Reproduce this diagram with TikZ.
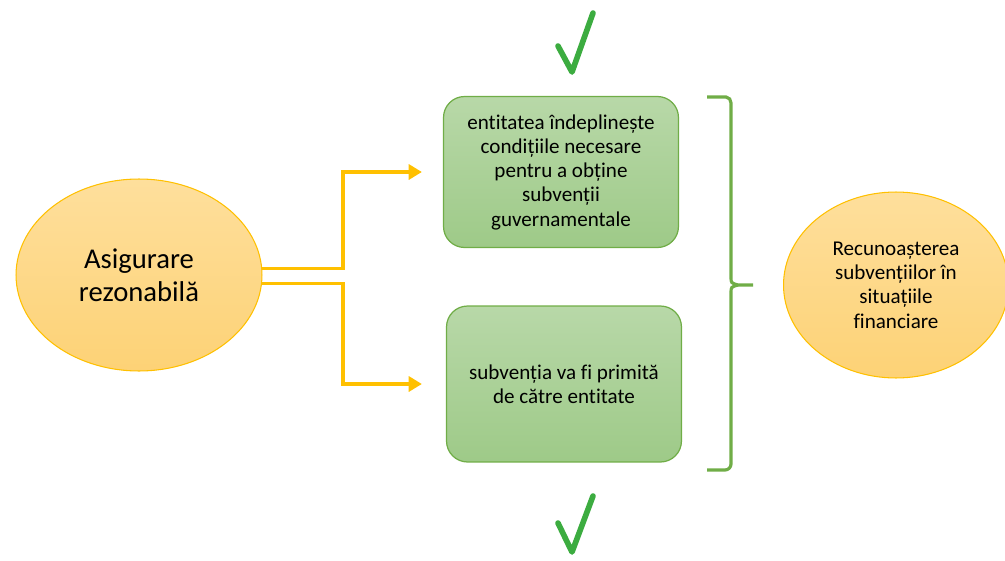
\documentclass[tikz,border=0pt]{standalone}
\usepackage{fontspec}
\setmainfont{Carlito}[Ligatures=NoCommon]
\usetikzlibrary{arrows.meta,shapes.geometric}
\definecolor{portocaliu}{RGB}{255,192,0}
\definecolor{portocaliusus}{RGB}{254,223,156}
\definecolor{portocaliujos}{RGB}{253,210,118}
\definecolor{verde}{RGB}{112,173,71}
\definecolor{verdesus}{RGB}{184,216,168}
\definecolor{verdejos}{RGB}{158,202,136}
\definecolor{verdebifa}{RGB}{60,172,64}
\begin{document}
\begin{tikzpicture}[
x=0.02cm, y=-0.02cm,
every node/.style={font=\fontsize{12}{13.8}\selectfont, align=center},
elipsa/.style={ellipse, draw=portocaliu, line width=0.6pt, top color=portocaliusus, bottom color=portocaliujos},
caseta/.style={draw=verde, line width=0.7pt, rounded corners=0.42cm, top color=verdesus, bottom color=verdejos, minimum width=4.7cm},
sageata/.style={draw=portocaliu, line width=2pt, -{Triangle[length=7.5pt, width=8.5pt]}},
acolada/.style={draw=verde, line width=1.8pt},
bifa/.style={draw=verdebifa, line width=3.2pt, line cap=round, line join=round}
]
\useasboundingbox (0,0) rectangle (1005,561);
% Elipse
\node[elipsa, minimum width=4.92cm, minimum height=3.84cm, font=\fontsize{16.3}{18.8}\selectfont] (asigurare) at (139,275) {Asigurare\\rezonabilă};
\node[elipsa, minimum width=4.5cm, minimum height=3.72cm] (recunoastere) at (896,285) {Recunoașterea\\subvențiilor în\\situațiile\\financiare};
% Conditii
\node[caseta, minimum height=3.02cm] (conditia1) at (561,172) {entitatea îndeplinește\\condițiile necesare\\pentru a obține\\subvenții\\guvernamentale};
\node[caseta, minimum height=3.12cm] (conditia2) at (564,384) {subvenția va fi primită\\de către entitate};
% Ramificatie
\coordinate (ramificatie) at (343,275);
% Sageti
\draw[sageata] (asigurare.3) -- (asigurare.3 -| ramificatie) |- ([xshift=-0.42cm]conditia1.west);
\draw[sageata] (asigurare.-4) -- (asigurare.-4 -| ramificatie) |- ([xshift=-0.48cm]conditia2.west);
% Acolada
\draw[acolada] (707,97) -- (726,97) to[out=0,in=90] (731,103) -- (731,277)
  .. controls (731,283) .. (738,285) -- (753,285);
\draw[acolada] (738,285) .. controls (731,287) .. (731,293) -- (731,464)
  to[out=-90,in=0] (725,470) -- (707,470);
% Bife
\draw[bifa] (558,46) -- (572,72) -- (593,13);
\draw[bifa] (558,523) -- (572,552) -- (593,496);
\end{tikzpicture}
\end{document}
